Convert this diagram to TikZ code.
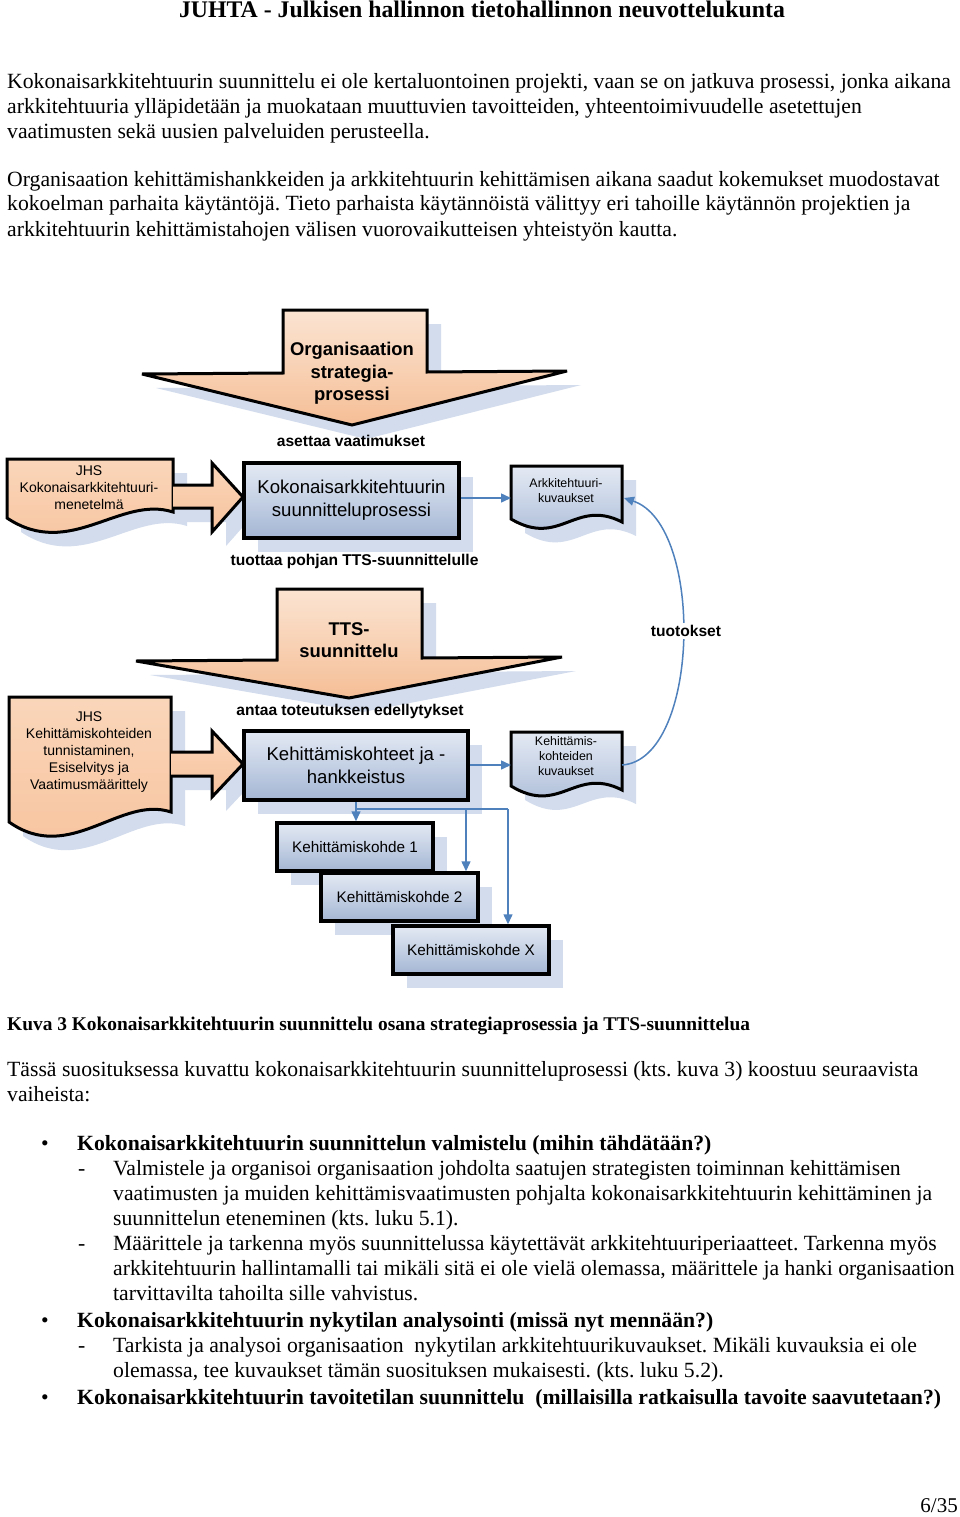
\documentclass[tikz,border=0pt]{standalone}
\usepackage{fontspec}
\setmainfont{Liberation Serif}
\newfontfamily\arial{Liberation Sans}
\usetikzlibrary{arrows.meta,shadows,calc}
\definecolor{shadowc}{RGB}{210,220,237}
\definecolor{boxtop}{RGB}{228,234,244}
\definecolor{boxbot}{RGB}{164,182,212}
\definecolor{orgtop}{RGB}{250,214,186}
\definecolor{orgbot}{RGB}{247,194,156}
\definecolor{arrtop}{RGB}{251,228,210}
\definecolor{arrbot}{RGB}{245,190,150}
\definecolor{connc}{RGB}{79,129,189}
\frenchspacing
\begin{document}
\frenchspacing
\begin{tikzpicture}[x=1pt,y=-1pt,
  body/.style={anchor=base west, inner sep=0pt, font=\fontsize{21.7}{25}\selectfont},
  bodyb/.style={anchor=base west, inner sep=0pt, font=\bfseries\fontsize{21.7}{25}\selectfont},
  myshadow/.style={drop shadow={shadow xshift=14pt,shadow yshift=-14pt,fill=shadowc,opacity=1}},
  bluebox/.style={draw=black, line width=3.5pt, top color=boxtop, bottom color=boxbot, myshadow, inner sep=0pt, align=center, font=\arial\fontsize{18.6}{23}\selectfont},
  kbox/.style={bluebox, minimum width=156pt, minimum height=48pt, font=\arial\fontsize{15.3}{18}\selectfont},
  orgshape/.style={draw=black, line width=3pt, line join=miter, miter limit=3, top color=orgtop, bottom color=orgbot, myshadow},
  bigarrow/.style={draw=black, line width=3pt, line join=miter, miter limit=3, top color=arrtop, bottom color=arrbot, myshadow},
  bluedoc/.style={draw=black, line width=3pt, top color=boxtop, bottom color=boxbot, myshadow},
  conn/.style={draw=connc, line width=1.5pt, -{Triangle[length=10pt,width=9pt]}},
  connline/.style={draw=connc, line width=1.5pt},
  lab/.style={font=\arial\bfseries\fontsize{15.6}{18}\selectfont, inner sep=1pt},
  bigt/.style={font=\arial\bfseries\fontsize{18.4}{22.5}\selectfont, align=center, inner sep=0pt},
  doct/.style={font=\arial\fontsize{14}{17}\selectfont, align=center, inner sep=0pt},
  smallt/.style={font=\arial\fontsize{12.4}{15}\selectfont, align=center, inner sep=0pt}
]
\useasboundingbox (0,0) rectangle (960,1517);
\fill[white] (0,0) rectangle (960,1517);

% ---------------- page text ----------------
\node[anchor=base, inner sep=0pt, font=\bfseries\fontsize{23.8}{28}\selectfont] (title) at (482,18) {JUHTA - Julkisen hallinnon tietohallinnon neuvottelukunta};

\node[body] (p1a) at (7,89) {Kokonaisarkkitehtuurin suunnittelu ei ole kertaluontoinen projekti, vaan se on jatkuva prosessi, jonka aikana};
\node[body] (p1b) at (7,114) {arkkitehtuuria ylläpidetään ja muokataan muuttuvien tavoitteiden, yhteentoimivuudelle asetettujen};
\node[body] (p1c) at (7,139) {vaatimusten sekä uusien palveluiden perusteella.};

\node[body] (p2a) at (7,186) {Organisaation kehittämishankkeiden ja arkkitehtuurin kehittämisen aikana saadut kokemukset muodostavat};
\node[body] (p2b) at (7,211) {kokoelman parhaita käytäntöjä. Tieto parhaista käytännöistä välittyy eri tahoille käytännön projektien ja};
\node[body] (p2c) at (7,236) {arkkitehtuurin kehittämistahojen välisen vuorovaikutteisen yhteistyön kautta.};

\node[anchor=base west, inner sep=0pt, font=\bfseries\fontsize{19.4}{25}\selectfont] (cap) at (7,1030) {Kuva 3 Kokonaisarkkitehtuurin suunnittelu osana strategiaprosessia ja TTS-suunnittelua};

\node[body] (p3a) at (7,1076) {Tässä suosituksessa kuvattu kokonaisarkkitehtuurin suunnitteluprosessi (kts. kuva 3) koostuu seuraavista};
\node[body] (p3b) at (7,1101) {vaiheista:};

\node[body] (bu1) at (41,1150) {•};
\node[bodyb] (b1) at (77,1150) {Kokonaisarkkitehtuurin suunnittelun valmistelu (mihin tähdätään?)};
\node[body] (da1) at (78,1175) {-};
\node[body] (d1a) at (113,1175) {Valmistele ja organisoi organisaation johdolta saatujen strategisten toiminnan kehittämisen};
\node[body] (d1b) at (113,1200) {vaatimusten ja muiden kehittämisvaatimusten pohjalta kokonaisarkkitehtuurin kehittäminen ja};
\node[body] (d1c) at (113,1225) {suunnittelun eteneminen (kts. luku 5.1).};
\node[body] (da2) at (78,1250) {-};
\node[body] (d2a) at (113,1250) {Määrittele ja tarkenna myös suunnittelussa käytettävät arkkitehtuuriperiaatteet. Tarkenna myös};
\node[body] (d2b) at (113,1275) {arkkitehtuurin hallintamalli tai mikäli sitä ei ole vielä olemassa, määrittele ja hanki organisaation};
\node[body] (d2c) at (113,1300) {tarvittavilta tahoilta sille vahvistus.};
\node[body] (bu2) at (41,1327) {•};
\node[bodyb] (b2) at (77,1327) {Kokonaisarkkitehtuurin nykytilan analysointi (missä nyt mennään?)};
\node[body] (da3) at (78,1352) {-};
\node[body] (d3a) at (113,1352) {Tarkista ja analysoi organisaation \ nykytilan arkkitehtuurikuvaukset. Mikäli kuvauksia ei ole};
\node[body] (d3b) at (113,1377) {olemassa, tee kuvaukset tämän suosituksen mukaisesti. (kts. luku 5.2).};
\node[body] (bu3) at (41,1404) {•};
\node[bodyb] (b3) at (77,1404) {Kokonaisarkkitehtuurin tavoitetilan suunnittelu \ (millaisilla ratkaisulla tavoite saavutetaan?)};
\node[anchor=base east, inner sep=0pt, font=\fontsize{21}{25}\selectfont] (pg) at (958,1512) {6/35};

% ---------------- diagram: upper part ----------------
\draw[bigarrow] (283,310) -- (427,310) -- (427,372) -- (567,371) -- (352,425) -- (142,374) -- (283,373) -- cycle;
\node[bigt] (org) at (352,373.5) {Organisaation\\strategia-\\prosessi};
\node[lab] (aset) at (351,441) {asettaa vaatimukset};

\draw[orgshape] (7,459) -- (173,459) -- (173,512) .. controls (120,495) and (70,560) .. (7,518) -- cycle;
\node[doct] (jhs1) at (89,488) {JHS\\Kokonaisarkkitehtuuri-\\menetelmä};
\draw[orgshape] (173,485) -- (212,485) -- (212,463) -- (243,497) -- (212,532) -- (212,508) -- (173,508);

\node[bluebox, minimum width=215pt, minimum height=75pt] (box1) at (351.5,500.5) {Kokonaisarkkitehtuurin\\suunnitteluprosessi};

\draw[bluedoc] (511,466) -- (622,466) -- (622,522) .. controls (575,498) and (560,548) .. (511,519) -- cycle;
\coordinate (arkL) at (511,498);
\coordinate (arkR) at (624,498);
\node[smallt] (ark) at (566,490.5) {Arkkitehtuuri-\\kuvaukset};
\draw[conn] (box1.east |- arkL) -- (arkL);

\node[lab] (tuottaa) at (354.5,561) {tuottaa pohjan TTS-suunnittelulle};

% ---------------- diagram: lower part ----------------
\draw[bigarrow] (277,589) -- (422,589) -- (422,658) -- (562,657) -- (349,698) -- (136,661) -- (277,660) -- cycle;
\node[bigt] (tts) at (349,640) {TTS-\\suunnittelu};
\node[lab] (antaa) at (350,711) {antaa toteutuksen edellytykset};

\draw[orgshape] (9,697) -- (171,697) -- (171,812) .. controls (120,795) and (70,865) .. (9,822) -- cycle;
\node[doct] (jhs2) at (89,752) {JHS\\Kehittämiskohteiden\\tunnistaminen,\\Esiselvitys ja\\Vaatimusmäärittely};
\draw[orgshape] (171,752) -- (212,752) -- (212,731) -- (243,764) -- (212,797) -- (212,776) -- (171,776);

\node[bluebox, minimum width=224pt, minimum height=69pt] (box2) at (356,765.5) {Kehittämiskohteet ja -\\hankkeistus};

\draw[bluedoc] (511,732) -- (622,732) -- (622,790) .. controls (575,766) and (560,816) .. (511,786) -- cycle;
\coordinate (kehL) at (511,765);
\coordinate (kehR) at (622,765);
\node[smallt] (keh) at (566,756) {Kehittämis-\\kohteiden\\kuvaukset};
\draw[conn] (box2.east |- kehL) -- (kehL);

\node[kbox] (k1) at (355,847) {Kehittämiskohde 1};
\node[kbox, minimum width=157pt] (k2) at (399.5,897) {Kehittämiskohde 2};
\node[kbox] (kx) at (471,950) {Kehittämiskohde X};

\coordinate (j1) at (356,809);
\coordinate (j2) at (466,809);
\coordinate (j3) at (508,809);
\draw[conn] (box2.south -| j1) -- (j1 |- k1.north);
\draw[connline] (j1) -- (j3);
\draw[conn] (j2) -- (j2 |- k2.north);
\draw[conn] (j3) -- (j3 |- kx.north);

\draw[conn] (kehR) .. controls (700,760) and (705,525) .. (arkR);
\node[lab, fill=white, inner sep=2pt] (tuot) at (686,631) {tuotokset};
\end{tikzpicture}
\end{document}
